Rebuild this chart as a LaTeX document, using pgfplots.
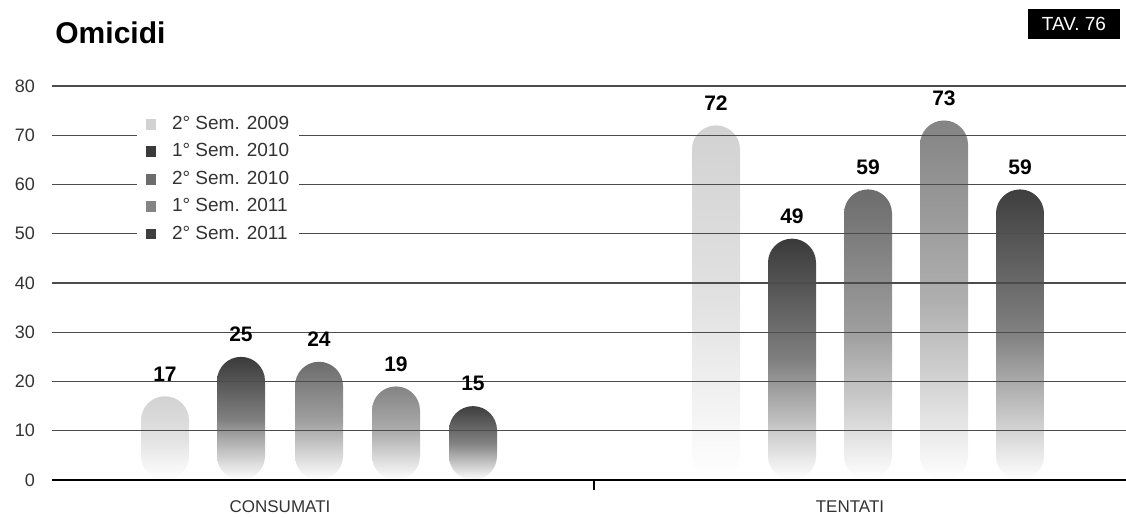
\documentclass[border=0pt]{standalone}
\usepackage{fontspec}
\setmainfont{Liberation Sans}
\usepackage{pgfplots}
\pgfplotsset{compat=1.18}

\definecolor{cA}{HTML}{D2D2D2} % 2° Sem. 2009
\definecolor{cB}{HTML}{3A3A3A} % 1° Sem. 2010
\definecolor{cC}{HTML}{6C6C6C} % 2° Sem. 2010
\definecolor{cD}{HTML}{848484} % 1° Sem. 2011
\definecolor{cE}{HTML}{3E3E3E} % 2° Sem. 2011

\pgfplotsset{
  omibar/.style={
    ybar, bar width=24pt, bar shift=0pt, draw=none,
    rounded corners=12pt,
    top color=#1, bottom color=white, middle color=#1!65!white,
    forget plot,
    nodes near coords,
    nodes near coords style={font=\bfseries\fontsize{10.5}{11}\selectfont,
      text=black, yshift=4pt, rounded corners=0pt},
  }
}

\begin{document}
\begin{tikzpicture}
\path[use as bounding box] (-26pt,-19pt) rectangle (537pt,240pt);
\begin{axis}[
  at={(0,0)}, anchor=south west,
  scale only axis, width=537pt, height=197pt,
  xmin=52, xmax=1126, ymin=0, ymax=80,
  ytick={0,10,...,80},
  xtick={594}, xticklabels={},
  axis x line*=bottom, axis y line*=left,
  x axis line style={line width=1.4pt, -},
  y axis line style={draw=none},
  ymajorgrids, grid style={line width=0.6pt, color=black!70},
  ytick style={draw=none},
  xtick style={line width=1pt, black},
  major tick length=5pt, xtick align=outside,
  tick label style={font=\fontsize{9}{10}\selectfont, text=black!80},
  /pgf/number format/assume math mode=true,
  yticklabel style={xshift=-5pt},
  axis on top,
  clip=false,
  legend style={at={(axis description cs:0.079,0.945)}, anchor=north west,
    draw=none, fill=white, font=\fontsize{9.5}{10}\selectfont,
    text=black!80, row sep=1.6pt, inner xsep=3pt, inner ysep=2pt},
  legend cell align=left,
  legend image code/.code={
    \fill[#1, draw=none] (1pt,-2.7pt) rectangle (6.4pt,2.7pt);
    \path (0pt,0pt) (12pt,0pt);
  },
]

% CONSUMATI
\addplot[omibar=cA] coordinates {(165,17)};
\addplot[omibar=cB] coordinates {(241,25)};
\addplot[omibar=cC] coordinates {(319,24)};
\addplot[omibar=cD] coordinates {(396,19)};
\addplot[omibar=cE] coordinates {(473,15)};

% TENTATI
\addplot[omibar=cA] coordinates {(716,72)};
\addplot[omibar=cB] coordinates {(792,49)};
\addplot[omibar=cC] coordinates {(868,59)};
\addplot[omibar=cD] coordinates {(944,73)};
\addplot[omibar=cE] coordinates {(1020,59)};

% legend
\addlegendimage{fill=cA}
\addlegendentry{2° Sem. 2009}
\addlegendimage{fill=cB}
\addlegendentry{1° Sem. 2010}
\addlegendimage{fill=cC}
\addlegendentry{2° Sem. 2010}
\addlegendimage{fill=cD}
\addlegendentry{1° Sem. 2011}
\addlegendimage{fill=cE}
\addlegendentry{2° Sem. 2011}

% category labels
\node[font=\fontsize{8.5}{10}\selectfont, text=black!80] at (axis cs:280,0) [yshift=-13.5pt] {CONSUMATI};
\node[font=\fontsize{8.5}{10}\selectfont, text=black!80] at (axis cs:850,0) [yshift=-13.5pt] {TENTATI};

% title and table tag
\node[anchor=west, inner sep=0pt, font=\bfseries\fontsize{15}{16}\selectfont] at (axis cs:55,90.8) {Omicidi};
\node[fill=black, text=white, inner sep=0pt, minimum width=46pt, minimum height=15pt,
  font=\fontsize{9.5}{10}\selectfont] at (axis cs:1074,92.6) {TAV. 76};

\end{axis}
\end{tikzpicture}
\end{document}
